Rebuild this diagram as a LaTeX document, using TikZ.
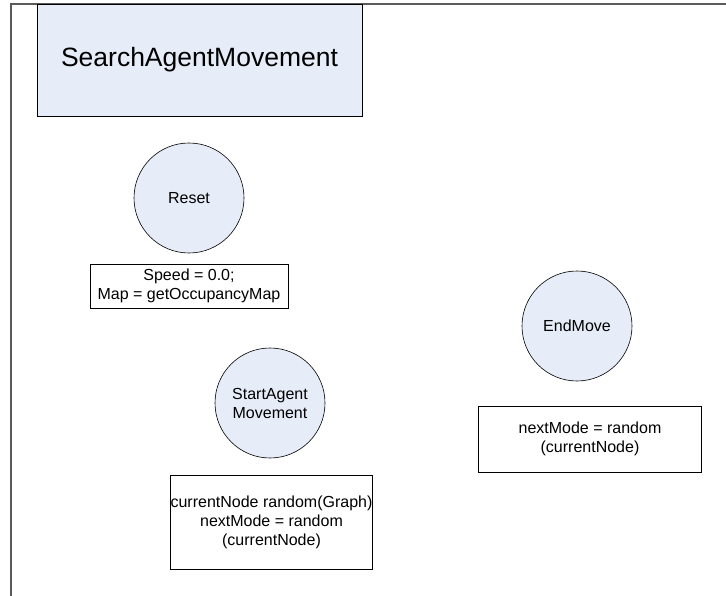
\documentclass[tikz,border=0pt]{standalone}
\usepackage{fontspec}
\setmainfont{Liberation Sans}
\begin{document}
\begin{tikzpicture}[x=1pt,y=-1pt,
  statefill/.style={fill=stateblue},
  state/.style={circle,draw=black,line width=0.6pt,statefill,minimum size=110pt,inner sep=0pt,align=center,font=\fontsize{16}{19}\selectfont},
  actionbox/.style={rectangle,draw=black,line width=0.6pt,fill=white,inner sep=0pt,align=center,font=\fontsize{16}{19}\selectfont},
  titlebox/.style={rectangle,draw=black,line width=0.6pt,statefill,inner sep=0pt,font=\fontsize{26.5}{30}\selectfont},
]
\definecolor{stateblue}{HTML}{E7EDF8}
\definecolor{framegray}{HTML}{5A5A5A}
\useasboundingbox (0,0) rectangle (726,596);

% outer frame (top and left sides)
\draw[framegray,line width=1.5pt] (11,596) -- (11,4) -- (726,4);

% title
\node[titlebox,minimum width=325pt,minimum height=112pt] (title) at (199.5,60) {SearchAgentMovement};

% Reset state and its action
\node[state] (reset) at (189,198) {Reset};
\node[actionbox,minimum width=198pt,minimum height=44pt] (resetact) at (189,286)
  {Speed = 0.0;\\Map = getOccupancyMap};

% StartAgentMovement state and its action
\node[state] (start) at (270,403) {StartAgent\\Movement};
\node[actionbox,minimum width=197pt,minimum height=94pt] (startact) at (271.5,522)
  {currentNode random(Graph)\\nextMode = random\\(currentNode)};

% EndMove state and its action
\node[state] (endmove) at (577,326) {EndMove};
\node[actionbox,minimum width=223pt,minimum height=66pt] (endact) at (590,439)
  {nextMode = random\\(currentNode)};
\end{tikzpicture}
\end{document}
